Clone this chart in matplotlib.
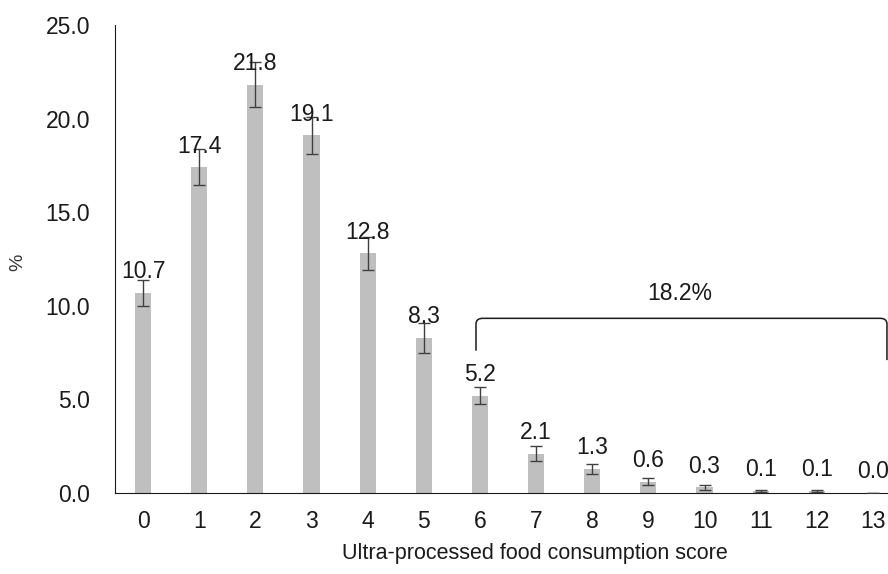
import matplotlib.pyplot as plt
from matplotlib.path import Path
from matplotlib.patches import PathPatch

plt.rcParams['font.family'] = ['Liberation Sans', 'DejaVu Sans']

# data
scores = list(range(14))
pct = [10.7, 17.4, 21.8, 19.1, 12.8, 8.3, 5.2, 2.1, 1.3, 0.6, 0.3, 0.1, 0.1, 0.0]
err = [0.7, 0.95, 1.2, 1.0, 0.9, 0.8, 0.45, 0.4, 0.27, 0.18, 0.15, 0.05, 0.05, 0.02]
bracket_label = "18.2%"

FS = 16.5

fig = plt.figure(figsize=(8.88, 5.74), dpi=100)
ax = fig.add_axes([115 / 888, 81 / 574, 786 / 888, 468 / 574])

ax.bar(scores, pct, width=0.29, color='#bfbfbf', zorder=2)
ax.errorbar(scores, pct, yerr=err, fmt='none', ecolor='#404040',
            elinewidth=1, capsize=4, capthick=1, zorder=3)

for x, v in zip(scores, pct):
    ax.annotate(f"{v:.1f}", (x, v), xytext=(0, 7), textcoords='offset points',
                ha='center', va='bottom', fontsize=FS, color='#1a1a1a')

# bracket over scores 6-13
x0, x1, y_top, y_l, y_r = 5.93, 13.25, 9.33, 7.6, 7.1
r = 0.12
verts = [(x0, y_l), (x0, y_top - 0.3), (x0, y_top), (x0 + r, y_top),
         (x1 - r, y_top), (x1, y_top), (x1, y_top - 0.3), (x1, y_r)]
codes = [Path.MOVETO, Path.LINETO, Path.CURVE3, Path.CURVE3,
         Path.LINETO, Path.CURVE3, Path.CURVE3, Path.LINETO]
ax.add_patch(PathPatch(Path(verts, codes), fill=False, edgecolor='#1a1a1a',
                       linewidth=1.1, zorder=4))
ax.text(9.56, 10.66, bracket_label, ha='center', va='center', fontsize=FS,
        color='#1a1a1a')

ax.set_xlim(-0.5, 13.5)
ax.set_ylim(0, 25)
ax.set_yticks([0, 5, 10, 15, 20, 25])
ax.set_yticklabels([f"{t:.1f}" for t in [0, 5, 10, 15, 20, 25]])
ax.set_xticks(scores)
ax.tick_params(axis='both', length=0, labelsize=FS, colors='#1a1a1a')
ax.tick_params(axis='x', pad=12)
ax.tick_params(axis='y', pad=18)

ax.spines['top'].set_visible(False)
ax.spines['right'].set_visible(False)
ax.spines['left'].set_color('#1a1a1a')
ax.spines['bottom'].set_color('#1a1a1a')

ax.set_xlabel("Ultra-processed food consumption score", fontsize=15.5,
              color='#1a1a1a')
ax.set_ylabel("%", fontsize=14, color='#333333')
ax.xaxis.set_label_coords((535 - 115) / 786, -(543 - 493) / 468)
ax.yaxis.set_label_coords((26 - 115) / 786, (493 - 262) / 468)

fig.savefig("out.png", dpi=100)
